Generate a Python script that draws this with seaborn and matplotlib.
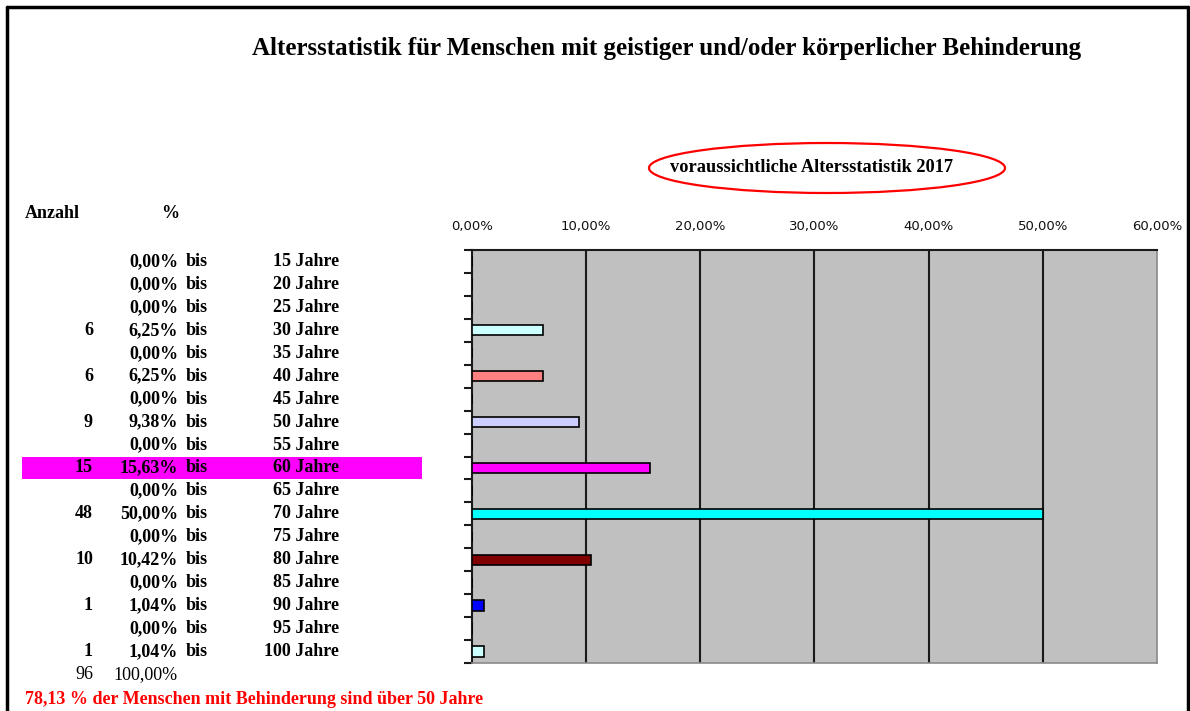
import numpy as np
import pandas as pd
import seaborn as sns
import matplotlib.pyplot as plt
import matplotlib.transforms as mtransforms
from matplotlib.patches import Ellipse, Rectangle
from matplotlib.lines import Line2D

# Daten aus der Tabelle
jahre = [15, 20, 25, 30, 35, 40, 45, 50, 55, 60, 65, 70, 75, 80, 85, 90, 95, 100]
anzahl = [None, None, None, 6, None, 6, None, 9, None, 15, None, 48, None, 10, None, 1, None, 1]
prozent = [0.00, 0.00, 0.00, 6.25, 0.00, 6.25, 0.00, 9.38, 0.00, 15.63, 0.00, 50.00,
           0.00, 10.42, 0.00, 1.04, 0.00, 1.04]
gesamt_anzahl = 96
gesamt_prozent = "100,00%"
x_ticks = [0, 10, 20, 30, 40, 50, 60]

# Excel-Standardfarben pro Datenpunkt
farben = ['#9999FF', '#993366', '#FFFFCC', '#CCFFFF', '#660066', '#FF8080', '#0066CC', '#CCCCFF',
          '#000080', '#FF00FF', '#FFFF00', '#00FFFF', '#800080', '#800000', '#008080', '#0000FF',
          '#00CCFF', '#CCFFFF']

df = pd.DataFrame({'Alter': [f'{j} Jahre' for j in jahre], 'Prozent': prozent})

sns.set_style('white')
plt.rcParams['text.color'] = 'black'
W, H = 1190, 711
fig = plt.figure(figsize=(W / 100, H / 100), dpi=100)

def fx(px):
    return px / W

def fy(py):
    return 1 - py / H

ax = fig.add_axes([fx(472), fy(663), fx(1157) - fx(472), fy(250) - fy(663)])
ax.set_facecolor('#C0C0C0')

sns.barplot(data=df, x='Prozent', y='Alter', hue='Alter', palette=farben, legend=False,
            orient='h', width=0.45, saturation=1, edgecolor='black', linewidth=1.2,
            ax=ax, zorder=3)

ax.set_xlim(0, 60)
ax.set_ylim(len(jahre) - 0.5, -0.5)
ax.set_xlabel('')
ax.set_ylabel('')

# x-Achse oben
ax.xaxis.tick_top()
ax.set_xticks(x_ticks)
ax.set_xticklabels([f'{t:.2f}%'.replace('.', ',') for t in x_ticks],
                   fontsize=9.5, family='DejaVu Sans', color='#111111')
ax.tick_params(axis='x', length=0, pad=12)
for t in x_ticks[1:-1]:
    ax.axvline(t, color='#1a1a1a', lw=1.5, zorder=2)

# y-Achse: Striche zwischen den Kategorien
ax.set_yticks(np.arange(-0.5, len(jahre), 1.0))
ax.set_yticklabels([])
ax.tick_params(axis='y', length=6, width=1.5, color='#1a1a1a', left=True)

for s in ['top', 'left']:
    ax.spines[s].set_color('#1a1a1a')
    ax.spines[s].set_linewidth(1.5)
for s in ['right', 'bottom']:
    ax.spines[s].set_color('#8a8a8a')
    ax.spines[s].set_linewidth(1.2)

# Tabelle links
trans = mtransforms.blended_transform_factory(fig.transFigure, ax.transData)
serif = 'Liberation Serif'
fs = 13

ax.add_patch(Rectangle((fx(22), 9 - 0.5), fx(422) - fx(22), 1.0, transform=trans,
                       facecolor='#FF00FF', edgecolor='none', clip_on=False, zorder=0))

for i, (j, n, p) in enumerate(zip(jahre, anzahl, prozent)):
    if n is not None:
        fig.text(fx(93), i, str(n), transform=trans, ha='right', va='center',
                 family=serif, weight='bold', fontsize=fs)
    fig.text(fx(178), i, f'{p:.2f}%'.replace('.', ','), transform=trans, ha='right',
             va='center', family=serif, weight='bold', fontsize=fs)
    fig.text(fx(186), i, 'bis', transform=trans, ha='left', va='center',
             family=serif, weight='bold', fontsize=fs)
    fig.text(fx(339), i, f'{j} Jahre', transform=trans, ha='right', va='center',
             family=serif, weight='bold', fontsize=fs)

fig.text(fx(93), len(jahre), str(gesamt_anzahl), transform=trans, ha='right', va='center',
         family=serif, fontsize=fs)
fig.text(fx(178), len(jahre), gesamt_prozent, transform=trans, ha='right', va='center',
         family=serif, fontsize=fs)

fig.text(fx(25), fy(214), 'Anzahl', ha='left', va='center', family=serif, weight='bold', fontsize=fs)
fig.text(fx(170), fy(214), '%', ha='center', va='center', family=serif, weight='bold', fontsize=fs)

fig.text(fx(25), fy(700), '78,13 % der Menschen mit Behinderung sind über 50 Jahre',
         ha='left', va='center', family=serif, weight='bold', fontsize=13, color='#FF0000')

# Titel
fig.text(fx(667), fy(48), 'Altersstatistik für Menschen mit geistiger und/oder körperlicher Behinderung',
         ha='center', va='center', family=serif, weight='bold', fontsize=18)
fig.text(fx(812), fy(167), 'voraussichtliche Altersstatistik 2017',
         ha='center', va='center', family=serif, weight='bold', fontsize=13.2)
fig.add_artist(Ellipse((fx(827), fy(168)), fx(356), 50 / H, transform=fig.transFigure,
                       facecolor='none', edgecolor='#FF0000', lw=1.6))

# Rahmen
fig.add_artist(Line2D([fx(7), fx(7)], [0, fy(7)], transform=fig.transFigure, color='black', lw=2.5))
fig.add_artist(Line2D([fx(7), fx(1188)], [fy(7), fy(7)], transform=fig.transFigure, color='black', lw=2.5))
fig.add_artist(Line2D([fx(1188), fx(1188)], [0, fy(7)], transform=fig.transFigure, color='black', lw=2.5))

fig.savefig('out.png', dpi=100)
